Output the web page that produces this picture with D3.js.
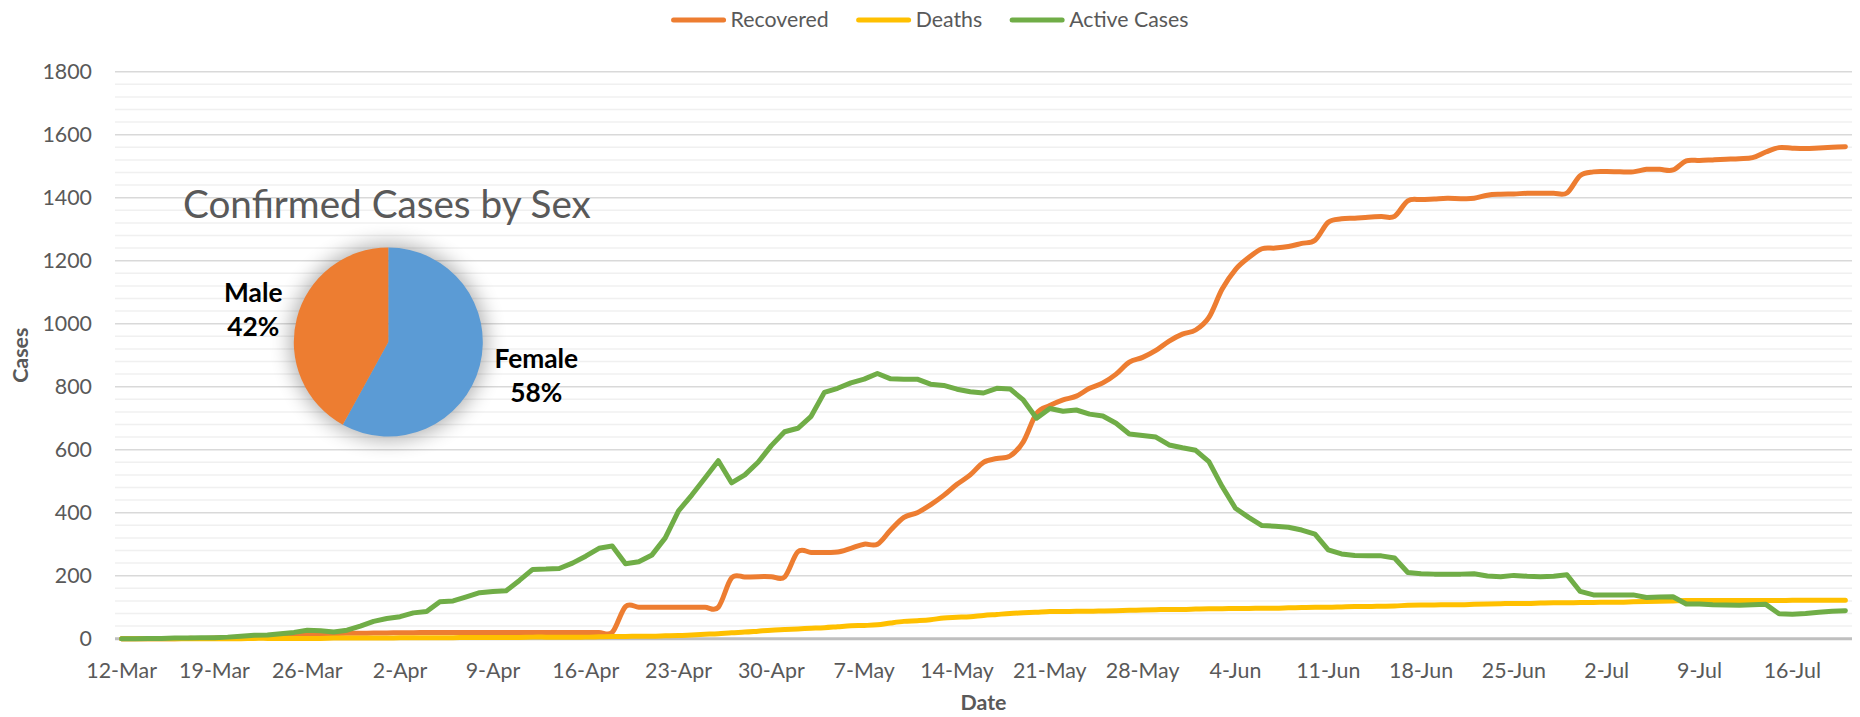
<!DOCTYPE html>
<html>
<head>
<meta charset="utf-8">
<script src="https://cdn.jsdelivr.net/npm/d3@7"></script>
<style>
  html, body { margin: 0; padding: 0; background: #fff; }
  svg { display: block; font-family: Lato, 'Open Sans', sans-serif; }
</style>
</head>
<body>
<svg width="1860" height="717"></svg>
<script>
/* global d3 */

// Data: daily values from 12-Mar to 20-Jul
const startDate = new Date(2020, 2, 12);
const seriesNames = ['Recovered', 'Deaths', 'Active Cases'];
const seriesColors = ['#ED7D31', '#FFC000', '#70AD47'];

const recovered = [
  0, 0, 0, 0, 0, 1, 1, 2, 3, 4,
  6, 8, 10, 12, 14, 15, 16, 17, 17, 18,
  18, 19, 19, 20, 20, 20, 20, 20, 20, 20,
  20, 20, 20, 20, 20, 20, 20, 20,
  102, 100, 100, 100, 100, 100, 100, 100,
  193, 196, 197, 197, 196, 276, 274, 274, 275,
  287, 300, 300, 345, 385, 400, 425, 455, 490, 520,
  560, 572, 580, 625, 715, 740, 758, 770, 795, 812,
  840, 878, 893, 915, 945, 967, 980, 1020, 1110, 1172,
  1210, 1238, 1240, 1245, 1255, 1265, 1322, 1333, 1335, 1338,
  1340, 1341, 1390, 1394, 1396, 1398, 1397, 1398, 1408, 1411,
  1412, 1414, 1414, 1414, 1415, 1470, 1482, 1483, 1482, 1482,
  1490, 1490, 1488, 1517, 1518, 1520, 1522, 1524, 1527, 1545,
  1559, 1557, 1556, 1558, 1560, 1562,
];

const deaths = [
  0, 0, 0, 0, 0, 0, 0, 0, 0, 0,
  1, 1, 1, 1, 1, 1, 2, 2, 2, 2,
  2, 3, 3, 3, 3, 3, 4, 4, 4, 4,
  4, 5, 5, 5, 5, 5, 6, 7, 7, 8,
  8, 9, 10, 12, 14, 16, 19, 21, 24, 27,
  29, 31, 33, 35, 38, 41, 42, 44, 50, 55,
  57, 60, 66, 68, 70, 74, 77, 80, 82, 84,
  86, 86, 87, 87, 88, 89, 90, 91, 92, 93,
  93, 94, 95, 95, 96, 96, 97, 97, 98, 99,
  100, 100, 101, 102, 102, 103, 104, 106, 107, 107,
  108, 108, 109, 110, 111, 112, 112, 113, 114, 114,
  115, 115, 116, 116, 117, 118, 119, 120, 121, 121,
  121, 121, 121, 121, 121, 121, 122, 122, 122, 122, 122,
];

const active = [
  0, 0, 1, 1, 2, 2, 3, 3, 5, 8,
  11, 12, 16, 20, 27, 25, 21, 27, 40, 55,
  64, 70, 82, 86, 117, 120, 133, 146, 150, 152,
  185, 220, 221, 223, 240, 262, 287, 294, 238, 244,
  266, 320, 406, 456, 510, 565, 495, 520, 560, 613,
  657, 668, 706, 782, 795, 812, 824, 842, 825, 824,
  824, 808, 804, 792, 784, 780, 795, 793, 758, 700,
  731, 722, 726, 713, 707, 684, 650, 645, 640, 615,
  606, 598, 562, 483, 414, 385, 359, 357, 354, 345,
  332, 282, 269, 264, 263, 263, 256, 210, 206, 205,
  205, 205, 206, 199, 197, 201, 198, 197, 198, 203,
  150, 139, 139, 139, 139, 131, 132, 133, 110, 110,
  108, 107, 106, 108, 109, 79, 78, 80, 84, 87, 89,
];

const tickLabels = [
  '12-Mar', '19-Mar', '26-Mar', '2-Apr', '9-Apr', '16-Apr', '23-Apr', '30-Apr',
  '7-May', '14-May', '21-May', '28-May', '4-Jun', '11-Jun', '18-Jun', '25-Jun',
  '2-Jul', '9-Jul', '16-Jul',
];
const yTicks = [0, 200, 400, 600, 800, 1000, 1200, 1400, 1600, 1800];

const sexNames = ['Female', 'Male'];
const sexShares = [58, 42];
const sexColors = ['#5B9BD5', '#ED7D31'];

// Layout
const svg = d3.select('svg');
const margin = { left: 115, right: 1852, top: 71.7, bottom: 638.7 };
const textGray = '#595959';

// size a font so that a sample string gets a given width
function fitFont(sample, weight, target) {
  const t = svg.append('text').attr('font-size', 100).attr('font-weight', weight).text(sample);
  const w = t.node().getComputedTextLength();
  t.remove();
  return (100 * target) / w;
}

const fmt = d3.timeFormat('%-d-%b');
const dates = d3.range(recovered.length).map((i) => d3.timeDay.offset(startDate, i));
const labels = dates.map(fmt);

const x = d3.scaleBand().domain(labels).range([margin.left, margin.right]);
const px = (i) => x(labels[i]) + x.bandwidth() / 2;
const y = d3.scaleLinear().domain([0, 1800]).range([margin.bottom, margin.top]);

// Gridlines
const minor = d3.range(40, 1801, 40).filter((v) => v % 200 !== 0);
svg.append('g').selectAll('line').data(minor).join('line')
  .attr('x1', margin.left).attr('x2', margin.right)
  .attr('y1', (d) => y(d)).attr('y2', (d) => y(d))
  .attr('stroke', '#f0f0f0').attr('stroke-width', 1.5);
svg.append('g').selectAll('line').data(yTicks.slice(1)).join('line')
  .attr('x1', margin.left).attr('x2', margin.right)
  .attr('y1', (d) => y(d)).attr('y2', (d) => y(d))
  .attr('stroke', '#d9d9d9').attr('stroke-width', 1.5);

// Axes
const tickSize = fitFont('12-Mar', 400, 70.7);
const yAxis = svg.append('g')
  .attr('transform', `translate(${margin.left},0)`)
  .call(d3.axisLeft(y).tickValues(yTicks).tickFormat(d3.format('d')).tickSize(0).tickPadding(23));
yAxis.select('.domain').remove();
yAxis.selectAll('text')
  .attr('font-family', 'Lato').attr('font-size', tickSize).attr('fill', textGray);

const xAxis = svg.append('g')
  .attr('transform', `translate(0,${margin.bottom})`)
  .call(d3.axisBottom(x).tickValues(tickLabels).tickSize(0));
xAxis.select('.domain').remove();
xAxis.selectAll('text')
  .attr('font-family', 'Lato').attr('font-size', tickSize).attr('fill', textGray)
  .attr('y', 39.5).attr('dy', 0);

svg.append('line')
  .attr('x1', margin.left).attr('x2', margin.right)
  .attr('y1', y(0)).attr('y2', y(0))
  .attr('stroke', '#bfbfbf').attr('stroke-width', 3);

// Axis titles
const titleSize = fitFont('Date', 700, 46);
svg.append('text')
  .attr('x', (margin.left + margin.right) / 2).attr('y', 710)
  .attr('text-anchor', 'middle').attr('font-weight', 700)
  .attr('font-size', titleSize).attr('fill', textGray)
  .text('Date');
svg.append('text')
  .attr('transform', `translate(28,${(margin.top + margin.bottom) / 2}) rotate(-90)`)
  .attr('text-anchor', 'middle').attr('font-weight', 700)
  .attr('font-size', titleSize).attr('fill', textGray)
  .text('Cases');

// Lines
const series = [recovered, deaths, active];
const curves = [d3.curveCatmullRom.alpha(0), d3.curveCatmullRom.alpha(0), d3.curveLinear];
series.forEach((values, k) => {
  const line = d3.line().x((d, i) => px(i)).y((d) => y(d)).curve(curves[k]);
  svg.append('path')
    .datum(values)
    .attr('d', line)
    .attr('fill', 'none')
    .attr('stroke', seriesColors[k])
    .attr('stroke-width', 5)
    .attr('stroke-linejoin', 'round')
    .attr('stroke-linecap', 'round');
});

// Legend
const legendSize = fitFont('Active Cases', 400, 119.4);
const legend = svg.append('g').attr('font-size', legendSize).attr('fill', textGray);
const items = seriesNames.map((name) => {
  const t = legend.append('text').text(name).attr('y', 27);
  return { t, w: t.node().getComputedTextLength() };
});
const lineLen = 54;
const itemGap = 28;
const total = d3.sum(items, (d) => lineLen + 5 + d.w) + itemGap * (items.length - 1);
let lx = 930 - total / 2;
items.forEach((d, k) => {
  legend.append('line')
    .attr('x1', lx + 2).attr('x2', lx + lineLen - 2).attr('y1', 20).attr('y2', 20)
    .attr('stroke', seriesColors[k]).attr('stroke-width', 5).attr('stroke-linecap', 'round');
  d.t.attr('x', lx + lineLen + 5);
  lx += lineLen + 5 + d.w + itemGap;
});

// Inset pie: Confirmed Cases by Sex
const pieCx = 388.3;
const pieCy = 342;
const pieR = 94.5;

svg.append('text')
  .attr('x', 183).attr('y', 218)
  .attr('font-size', fitFont('Confirmed Cases by Sex', 400, 408))
  .attr('fill', textGray)
  .text('Confirmed Cases by Sex');

const defs = svg.append('defs');
defs.append('filter').attr('id', 'glow')
  .attr('x', '-50%').attr('y', '-50%').attr('width', '200%').attr('height', '200%')
  .append('feGaussianBlur').attr('stdDeviation', 10);

const pieG = svg.append('g').attr('transform', `translate(${pieCx},${pieCy})`);
pieG.append('circle')
  .attr('r', pieR + 4)
  .attr('fill', '#000')
  .attr('opacity', 0.3)
  .attr('filter', 'url(#glow)');

const pie = d3.pie().sort(null).value((d) => d)(sexShares);
const arc = d3.arc().innerRadius(0).outerRadius(pieR);
pieG.selectAll('path').data(pie).join('path')
  .attr('d', arc)
  .attr('fill', (d, i) => sexColors[i]);

const pieFont = fitFont('Female', 700, 83.7);
const labelOffsets = [[148, 26], [-135, -40]];
pie.forEach((d, i) => {
  const g = pieG.append('g')
    .attr('transform', `translate(${labelOffsets[i][0]},${labelOffsets[i][1]})`)
    .attr('text-anchor', 'middle').attr('font-weight', 700)
    .attr('font-size', pieFont).attr('fill', '#000');
  g.append('text').attr('y', 0).text(sexNames[i]);
  g.append('text').attr('y', 34).text(`${sexShares[i]}%`);
});
</script>
</body>
</html>
